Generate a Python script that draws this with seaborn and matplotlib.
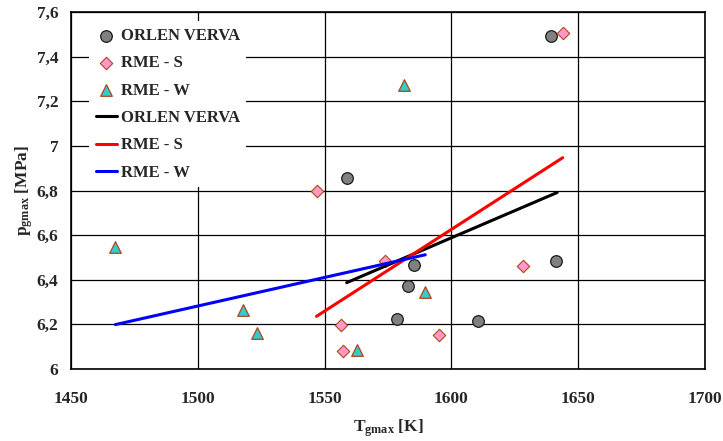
import matplotlib
matplotlib.use("Agg")
import matplotlib.pyplot as plt
import seaborn as sns
import pandas as pd

# Measured peak cylinder pressure vs peak gas temperature for three fuels
orlen_T = [1558.9, 1585.3, 1582.7, 1578.6, 1610.6, 1641.4, 1639.2]
orlen_p = [6.857, 6.467, 6.371, 6.223, 6.214, 6.482, 7.493]

rme_s_T = [1547.0, 1573.8, 1628.2, 1556.6, 1557.4, 1595.2, 1643.9]
rme_s_p = [6.797, 6.482, 6.461, 6.199, 6.081, 6.153, 7.507]

rme_w_T = [1589.4, 1562.6, 1467.5, 1518.0, 1523.3, 1581.2]
rme_w_p = [6.346, 6.087, 6.546, 6.265, 6.160, 7.273]

# Linear trend lines (start/end points)
trend_orlen_T = [1558.7, 1641.7]
trend_orlen_p = [6.387, 6.791]
trend_rme_s_T = [1546.8, 1643.9]
trend_rme_s_p = [6.236, 6.947]
trend_rme_w_T = [1467.5, 1589.7]
trend_rme_w_p = [6.199, 6.512]

x_ticks = [1450, 1500, 1550, 1600, 1650, 1700]
y_ticks = [6.0, 6.2, 6.4, 6.6, 6.8, 7.0, 7.2, 7.4, 7.6]
y_tick_labels = ["6", "6,2", "6,4", "6,6", "6,8", "7", "7,2", "7,4", "7,6"]

sns.set_theme(style="white")
plt.rcParams["font.family"] = ["Liberation Serif", "DejaVu Serif"]
plt.rcParams["font.weight"] = "bold"
plt.rcParams["mathtext.fontset"] = "custom"
plt.rcParams["mathtext.rm"] = "Liberation Serif:bold"
plt.rcParams["mathtext.bf"] = "Liberation Serif:bold"
plt.rcParams["mathtext.it"] = "Liberation Serif:bold"

fig = plt.figure(figsize=(7.23, 4.41), dpi=100)
ax = fig.add_axes([71 / 723, 1 - 369 / 441, 634 / 723, 357 / 441])

df_o = pd.DataFrame({"T": orlen_T, "p": orlen_p})
df_s = pd.DataFrame({"T": rme_s_T, "p": rme_s_p})
df_w = pd.DataFrame({"T": rme_w_T, "p": rme_w_p})

sns.scatterplot(data=df_o, x="T", y="p", ax=ax, marker="o", s=70,
                color="#808080", edgecolor="#1a1a1a", linewidth=0.9,
                label="ORLEN VERVA", zorder=4)
sns.scatterplot(data=df_s, x="T", y="p", ax=ax, marker="D", s=40,
                color="#FF99CC", edgecolor="#B0451A", linewidth=0.8,
                label="RME - S", zorder=4)
sns.scatterplot(data=df_w, x="T", y="p", ax=ax, marker="^", s=70,
                color="#33CCCC", edgecolor="#B0451A", linewidth=0.9,
                label="RME - W", zorder=4)

df_to = pd.DataFrame({"T": trend_orlen_T, "p": trend_orlen_p})
df_ts = pd.DataFrame({"T": trend_rme_s_T, "p": trend_rme_s_p})
df_tw = pd.DataFrame({"T": trend_rme_w_T, "p": trend_rme_w_p})
sns.lineplot(data=df_to, x="T", y="p", ax=ax, color="black", linewidth=2.2,
             label="ORLEN VERVA", zorder=5)
sns.lineplot(data=df_ts, x="T", y="p", ax=ax, color="#FF0000", linewidth=2.2,
             label="RME - S", zorder=5)
sns.lineplot(data=df_tw, x="T", y="p", ax=ax, color="#0000FF", linewidth=2.2,
             label="RME - W", zorder=5)

ax.set_xlim(1450, 1700)
ax.set_ylim(6.0, 7.6)
ax.set_xticks(x_ticks)
ax.set_xticklabels([str(t) for t in x_ticks])
ax.set_yticks(y_ticks)
ax.set_yticklabels(y_tick_labels)

ax.grid(True, color="black", linewidth=0.9)
ax.set_axisbelow(True)
for sp in ax.spines.values():
    sp.set_visible(True)
    sp.set_color("black")
    sp.set_linewidth(1.2)

ax.tick_params(axis="both", direction="out", length=4, width=0.9,
               color="black", labelsize=12.5, pad=5)
ax.tick_params(axis="x", pad=12)
for lab in ax.get_xticklabels() + ax.get_yticklabels():
    lab.set_fontweight("bold")

ax.set_xlabel(r"T$_{\mathbf{gmax}}$ [K]", fontsize=12.5, fontweight="bold",
              labelpad=7)
ax.set_ylabel(r"p$_{\mathbf{gmax}}$ [MPa]", fontsize=12.5, fontweight="bold",
              labelpad=1)

handles, labels = ax.get_legend_handles_labels()
leg = ax.legend(handles, labels, loc="upper left", bbox_to_anchor=(0.015, 0.997),
                frameon=True, facecolor="white", edgecolor="none", framealpha=1.0,
                fancybox=False, handlelength=1.3,
                handletextpad=0.2, labelspacing=0.68, borderpad=0.4,
                prop={"weight": "bold", "size": 12})
leg.set_zorder(6)

fig.savefig("out.png", dpi=100, facecolor="white")
